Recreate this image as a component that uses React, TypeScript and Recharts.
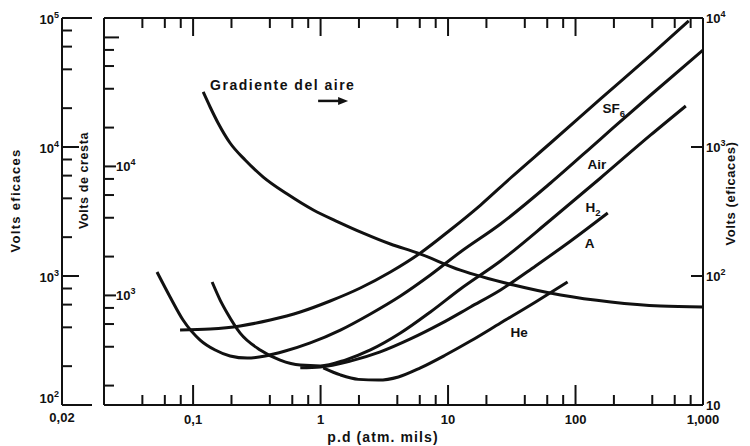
import React from 'react';
import { LineChart, Line, XAxis, YAxis, ReferenceDot } from 'recharts';

const FONT = '"Liberation Sans", Arial, Helvetica, sans-serif';
const INK = '#111';

// ---- Series (x = p.d in atm·mils, y = volts rms) ----
const sf6X = [0.079, 0.136, 0.234, 0.403, 0.693, 1.19, 2.05, 3.53, 6.07, 10.4, 18.0, 30.9, 63.7, 157, 389, 773];
const sf6Y = [381, 388, 410, 456, 526, 640, 807, 1074, 1508, 2274, 3550, 5750, 10740, 23560, 51650, 94800];

const airX = [0.0521, 0.066, 0.0834, 0.1135, 0.149, 0.195, 0.266, 0.368, 0.528, 0.83, 1.43, 2.46, 4.23, 7.27, 12.5, 25.8, 63.7, 157, 389, 1000];
const airY = [1074, 688, 456, 319, 267, 240, 231, 240, 262, 303, 381, 508, 700, 1018, 1535, 2530, 5260, 11530, 25300, 56500];

const h2X = [0.141, 0.163, 0.185, 0.234, 0.336, 0.482, 0.693, 0.995, 1.56, 2.46, 4.23, 7.27, 12.5, 25.8, 63.7, 157, 389, 733];
const h2Y = [898, 651, 517, 361, 267, 223, 204, 201, 223, 267, 361, 526, 793, 1307, 2717, 5750, 12400, 20800];

const arX = [0.693, 0.995, 1.71, 2.94, 5.07, 8.71, 15.0, 25.8, 48.6, 91.6, 179];
const arY = [194, 197, 219, 258, 325, 425, 575, 779, 1196, 1868, 3078];

const heX = [1.05, 1.43, 1.98, 2.84, 4.08, 6.07, 9.55, 15.0, 25.8, 48.6, 86.7];
const heY = [194, 171, 158, 156, 165, 194, 244, 313, 432, 629, 898];

// air gradient, read on the right-hand axis
const gradX = [0.12, 0.136, 0.157, 0.195, 0.256, 0.355, 0.548, 0.877, 1.38, 2.16, 3.53, 5.75, 12.5, 32.7, 76.4, 189, 466, 1000];
const gradY = [2670, 2042, 1535, 1074, 793, 585, 432, 325, 262, 215, 177, 151, 111, 85.1, 71.2, 62.9, 58.5, 57.5];

// ---- Ticks ----
const xMajorTicks = [0.1, 1, 10, 100, 1000];
const xTickLabels = ['0,1', '1', '10', '100', '1,000'];
const xMinorTicks = [0.04, 0.06, 0.08, 0.2, 0.4, 0.6, 0.8, 2, 4, 6, 8, 20, 40, 60, 80, 200, 400, 600, 800];

const rmsMajorTicks = [100, 1000, 10000, 100000];
const rmsMinorTicks = [200, 400, 600, 800, 2000, 4000, 6000, 8000, 20000, 40000, 60000, 80000];

const crestaMajorTicks = [1000, 10000, 100000];
const crestaLabeledTicks = [1000, 10000];
const crestaMinorTicks = [200, 400, 600, 800, 2000, 4000, 6000, 8000, 20000, 40000, 60000, 80000];

const rightTicks = [10, 100, 1000, 10000];
const rightMarkedTicks = [100, 1000];

// ---- Annotations ----
const curveLabels = [
  { main: 'SF', sub: '6', x: 163, y: 18400 },
  { main: 'Air', sub: '', x: 124, y: 6750 },
  { main: 'H', sub: '2', x: 120, y: 3135 },
  { main: 'A', sub: '', x: 118, y: 1648 },
  { main: 'He', sub: '', x: 30.9, y: 337 },
];
const gradLabel = { text: 'Gradiente del aire', x: 0.136, y: 27700 };

const pts = (xs: number[], ys: number[]) => xs.map((x, i) => ({ x, y: ys[i] }));
const sf6Data = pts(sf6X, sf6Y);
const airData = pts(airX, airY);
const h2Data = pts(h2X, h2Y);
const arData = pts(arX, arY);
const heData = pts(heX, heY);
const gradData = pts(gradX, gradY);

const near = (arr: number[], v: number) => arr.some((a) => Math.abs(a - v) / a < 1e-6);
const sorted = (a: number[]) => [...a].sort((p, q) => p - q);

const Pow = ({ x, y, exp, anchor }: any) => (
  <text x={x} y={y} textAnchor={anchor} fontFamily={FONT} fontSize={13} fontWeight="bold" fill={INK}>
    10
    {exp ? (
      <tspan dy={-6} fontSize={9}>
        {exp}
      </tspan>
    ) : null}
  </text>
);

const BottomTick = (p: any) => {
  const { x, y, payload } = p;
  const v = payload.value;
  const idx = xMajorTicks.findIndex((m) => Math.abs(m - v) / m < 1e-6);
  const major = idx >= 0;
  return (
    <g>
      <line x1={x} x2={x} y1={y} y2={y - (major ? 20 : 10)} stroke={INK} strokeWidth={2} />
      {major && (
        <text x={x} y={y + 19} textAnchor="middle" fontFamily={FONT} fontSize={13} fontWeight="bold" fill={INK}>
          {xTickLabels[idx]}
        </text>
      )}
    </g>
  );
};

const TopTick = (p: any) => {
  const { x, y, payload } = p;
  const major = near(xMajorTicks, payload.value);
  return <line x1={x} x2={x} y1={y} y2={y + (major ? 18 : 10)} stroke={INK} strokeWidth={2} />;
};

const RmsTick = (p: any) => {
  const { x, y, payload } = p;
  const v = payload.value;
  const end = near([100, 100000], v);
  const major = near(rmsMajorTicks, v);
  const bottom = near([100], v);
  const len = end ? 30 : major ? 17 : 10;
  const exp = String(Math.round(Math.log10(v)));
  return (
    <g>
      <line x1={x} x2={x + len} y1={y} y2={y} stroke={INK} strokeWidth={2} />
      {major && <Pow x={x - 3} y={bottom ? y - 2 : y + 6} exp={exp} anchor="end" />}
      {bottom && (
        <text x={x} y={y + 17} textAnchor="middle" fontFamily={FONT} fontSize={13} fontWeight="bold" fill={INK}>
          0,02
        </text>
      )}
    </g>
  );
};

const CrestaTick = (p: any) => {
  const { x, y, payload } = p;
  const v = payload.value;
  const major = near(crestaMajorTicks, v);
  const labeled = near(crestaLabeledTicks, v);
  const len = labeled ? 12 : major ? 15 : 10;
  const exp = String(Math.round(Math.log10(v)));
  return (
    <g>
      <line x1={x} x2={x + len} y1={y} y2={y} stroke={INK} strokeWidth={2} />
      {labeled && <Pow x={x + len} y={y + 5} exp={exp} anchor="start" />}
    </g>
  );
};

const RightTick = (p: any) => {
  const { x, y, payload } = p;
  const v = payload.value;
  const marked = near(rightMarkedTicks, v);
  const exp = Math.round(Math.log10(v));
  return (
    <g>
      {marked && <line x1={x} x2={x - 12} y1={y} y2={y} stroke={INK} strokeWidth={2} />}
      <Pow x={x + 3} y={y + 5} exp={exp === 1 ? '' : String(exp)} anchor="start" />
    </g>
  );
};

const vTitle = (text: string, dx: number, dy: number, size: number, spacing: number) => (props: any) => {
  const vb = props.viewBox || {};
  const cx = vb.x + dx;
  const cy = vb.y + vb.height / 2 + dy;
  return (
    <text
      x={cx}
      y={cy}
      transform={`rotate(-90 ${cx} ${cy})`}
      textAnchor="middle"
      fontFamily={FONT}
      fontSize={size}
      fontWeight="bold"
      letterSpacing={spacing}
      fill={INK}
    >
      {text}
    </text>
  );
};

const xTitle = (props: any) => {
  const vb = props.viewBox || {};
  return (
    <text
      x={vb.x + 279}
      y={vb.y + 37}
      textAnchor="middle"
      fontFamily={FONT}
      fontSize={14}
      fontWeight="bold"
      letterSpacing={1.1}
      fill={INK}
    >
      p.d (atm. mils)
    </text>
  );
};

const CurveLabel = (lab: any) => (p: any) => (
  <text x={p.cx} y={p.cy} fontFamily={FONT} fontSize={13.5} fontWeight="bold" fill={INK}>
    {lab.main}
    {lab.sub ? (
      <tspan dy={4} fontSize={9.5}>
        {lab.sub}
      </tspan>
    ) : null}
  </text>
);

const GradShape = (p: any) => (
  <g>
    <text x={p.cx} y={p.cy} fontFamily={FONT} fontSize={14} fontWeight="bold" letterSpacing={1.5} fill={INK}>
      {gradLabel.text}
    </text>
    <line x1={p.cx + 108} x2={p.cx + 132} y1={p.cy + 11} y2={p.cy + 11} stroke={INK} strokeWidth={2.5} />
    <path d={`M${p.cx + 138},${p.cy + 11} L${p.cx + 128},${p.cy + 7} L${p.cx + 128},${p.cy + 15} Z`} fill={INK} />
  </g>
);

const lineProps = {
  type: 'monotone' as const,
  dataKey: 'y',
  stroke: INK,
  strokeWidth: 3,
  dot: false,
  activeDot: false,
  isAnimationActive: false,
  strokeLinecap: 'butt' as const,
};

export default function App() {
  const xTicks = sorted([...xMajorTicks, ...xMinorTicks]);
  return (
    <LineChart width={742} height={438} margin={{ top: 0, right: 0, bottom: 0, left: 0 }} style={{ fontFamily: FONT }}>
      <XAxis
        xAxisId="b"
        dataKey="x"
        type="number"
        scale="log"
        domain={[0.02, 1000]}
        allowDataOverflow
        orientation="bottom"
        height={41}
        ticks={xTicks}
        interval={0}
        tickSize={0}
        tickMargin={0}
        tickLine={false}
        tick={BottomTick}
        axisLine={{ stroke: INK, strokeWidth: 2 }}
        label={xTitle}
      />
      <XAxis
        xAxisId="t"
        dataKey="x"
        type="number"
        scale="log"
        domain={[0.02, 1000]}
        allowDataOverflow
        orientation="top"
        height={10}
        ticks={xTicks}
        interval={0}
        tickSize={0}
        tickMargin={0}
        tickLine={false}
        tick={TopTick}
        axisLine={{ stroke: INK, strokeWidth: 2 }}
      />
      <YAxis
        yAxisId="cresta"
        orientation="left"
        type="number"
        scale="log"
        domain={[100 * Math.SQRT2, 100000 * Math.SQRT2]}
        allowDataOverflow
        width={42}
        ticks={sorted([...crestaMajorTicks, ...crestaMinorTicks])}
        interval={0}
        tickSize={0}
        tickMargin={0}
        tickLine={false}
        tick={CrestaTick}
        axisLine={{ stroke: INK, strokeWidth: 2 }}
        label={vTitle('Volts de cresta', 26, -31, 12.5, 0.6)}
      />
      <YAxis
        yAxisId="rms"
        orientation="left"
        type="number"
        scale="log"
        domain={[100, 100000]}
        allowDataOverflow
        width={54}
        ticks={sorted([...rmsMajorTicks, ...rmsMinorTicks])}
        interval={0}
        tickSize={0}
        tickMargin={0}
        tickLine={false}
        tick={RmsTick}
        axisLine={{ stroke: INK, strokeWidth: 2 }}
        label={vTitle('Volts eficaces', 12, -11, 13, 1.3)}
      />
      <YAxis
        yAxisId="right"
        orientation="right"
        type="number"
        scale="log"
        domain={[10, 10000]}
        allowDataOverflow
        width={47}
        ticks={rightTicks}
        interval={0}
        tickSize={0}
        tickMargin={0}
        tickLine={false}
        tick={RightTick}
        axisLine={{ stroke: INK, strokeWidth: 2 }}
        label={vTitle('Volts  (eficaces)', 32, -18, 13, 0.6)}
      />

      <Line xAxisId="b" yAxisId="rms" data={sf6Data} {...lineProps} />
      <Line xAxisId="b" yAxisId="rms" data={airData} {...lineProps} />
      <Line xAxisId="b" yAxisId="rms" data={h2Data} {...lineProps} />
      <Line xAxisId="b" yAxisId="rms" data={arData} {...lineProps} />
      <Line xAxisId="b" yAxisId="rms" data={heData} {...lineProps} />
      <Line xAxisId="b" yAxisId="right" data={gradData} {...lineProps} />

      {curveLabels.map((lab) => (
        <ReferenceDot
          key={lab.main}
          xAxisId="b"
          yAxisId="rms"
          x={lab.x}
          y={lab.y}
          r={0}
          ifOverflow="visible"
          shape={CurveLabel(lab)}
        />
      ))}
      <ReferenceDot
        xAxisId="b"
        yAxisId="rms"
        x={gradLabel.x}
        y={gradLabel.y}
        r={0}
        ifOverflow="visible"
        shape={GradShape}
      />
    </LineChart>
  );
}
